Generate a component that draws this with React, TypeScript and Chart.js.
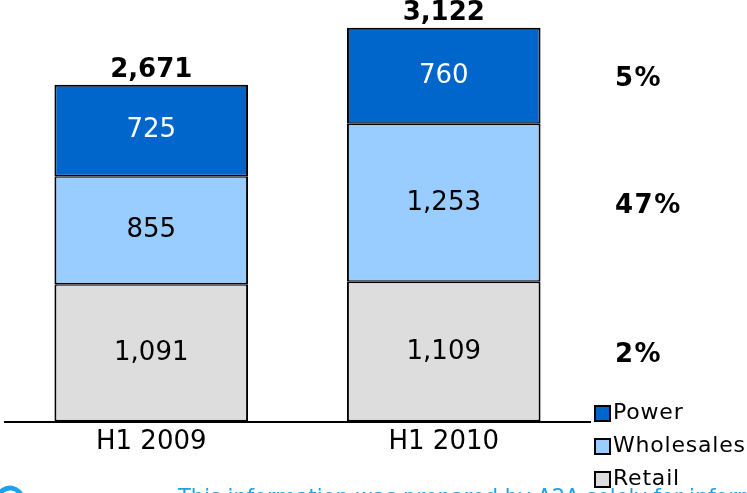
import React, { useEffect, useRef } from "react";
import { Chart, registerables } from "chart.js";

Chart.register(...registerables);

const categories = ["H1 2009", "H1 2010"];
const seriesNames = ["Retail", "Wholesales", "Power"];
const retail = [1091, 1109];
const wholesales = [855, 1253];
const power = [725, 760];
const totals = ["2,671", "3,122"];
const growthLabels = ["2%", "47%", "5%"]; // Retail, Wholesales, Power
const colors = ["#DDDDDD", "#99CCFF", "#0066CC"];
const labelColors = ["#000000", "#000000", "#FFFFFF"];
const footerText = "This information was prepared by A2A solely for information purposes";

const FONT = "'DejaVu Sans', Verdana, sans-serif";

const borderWidths = [
  { left: 2, right: 2, top: 1.5, bottom: 2 },
  { left: 2, right: 2, top: 1.5, bottom: 1.5 },
  { left: 2, right: 2, top: 2, bottom: 1.5 },
];

const overlay = {
  id: "overlay",
  afterDatasetsDraw(chart: any) {
    const ctx = chart.ctx;
    const x = chart.scales.x;
    const y = chart.scales.y;
    ctx.save();
    // segment labels
    chart.data.datasets.forEach((ds: any, di: number) => {
      const meta = chart.getDatasetMeta(di);
      meta.data.forEach((bar: any, i: number) => {
        const v = ds.data[i];
        const yc = (bar.y + bar.base) / 2;
        ctx.fillStyle = labelColors[di];
        ctx.font = `26px ${FONT}`;
        ctx.letterSpacing = "0px";
        ctx.textAlign = "center";
        ctx.textBaseline = "middle";
        ctx.fillText(v.toLocaleString("en-US"), bar.x, yc);
      });
    });
    // totals
    categories.forEach((c, i) => {
      const sum = retail[i] + wholesales[i] + power[i];
      ctx.fillStyle = "#000";
      ctx.font = `bold 26px ${FONT}`;
      ctx.letterSpacing = "0px";
      ctx.textAlign = "center";
      ctx.textBaseline = "bottom";
      ctx.fillText(totals[i], x.getPixelForValue(i), y.getPixelForValue(sum) - 2);
    });
    // growth labels aligned to second bar segments
    chart.data.datasets.forEach((ds: any, di: number) => {
      const bar = chart.getDatasetMeta(di).data[1];
      const yc = (bar.y + bar.base) / 2;
      ctx.fillStyle = "#000";
      ctx.font = `bold 26px ${FONT}`;
      ctx.letterSpacing = "1.5px";
      ctx.textAlign = "left";
      ctx.textBaseline = "middle";
      ctx.fillText(growthLabels[di], 615, yc + 3);
    });
    ctx.letterSpacing = "0px";
    // legend
    const order = [2, 1, 0];
    const ys = [413, 446, 479];
    order.forEach((di, k) => {
      const ly = ys[k];
      ctx.fillStyle = colors[di];
      ctx.fillRect(595, ly - 7, 15, 15);
      ctx.strokeStyle = "#000";
      ctx.lineWidth = 2;
      ctx.strokeRect(595, ly - 7, 15, 15);
      ctx.fillStyle = "#000";
      ctx.font = `22px ${FONT}`;
      ctx.letterSpacing = "0.8px";
      ctx.textAlign = "left";
      ctx.textBaseline = "middle";
      ctx.fillText(seriesNames[di], 613, ly);
    });
    ctx.letterSpacing = "0px";
    // footer
    ctx.fillStyle = "#1AA3E8";
    ctx.font = `21px ${FONT}`;
    ctx.textAlign = "left";
    ctx.textBaseline = "top";
    ctx.fillText(footerText, 178, 488);
    ctx.strokeStyle = "#1AA3E8";
    ctx.lineWidth = 5;
    ctx.beginPath();
    ctx.arc(10, 500, 12, Math.PI * 1.05, Math.PI * 1.95);
    ctx.stroke();
    ctx.restore();
  },
};

export default function App() {
  const ref = useRef<HTMLCanvasElement>(null);
  useEffect(() => {
    if (!ref.current) return;
    const chart = new Chart(ref.current, {
      type: "bar",
      data: {
        labels: categories,
        datasets: [retail, wholesales, power].map((d, i) => ({
          label: seriesNames[i],
          data: d,
          backgroundColor: colors[i],
          borderColor: "#000000",
          borderWidth: borderWidths[i],
          borderSkipped: false,
          categoryPercentage: 1,
          barPercentage: 0.662,
        })),
      },
      options: {
        responsive: false,
        animation: false,
        devicePixelRatio: 1,
        layout: { padding: { left: 5, right: 157, top: 18, bottom: 30 } },
        plugins: { legend: { display: false }, tooltip: { enabled: false } },
        scales: {
          x: {
            stacked: true,
            grid: { display: false, drawTicks: false },
            border: { display: true, color: "#000", width: 2 },
            ticks: { color: "#000", font: { family: FONT, size: 26 }, padding: 5 },
          },
          y: {
            stacked: true,
            display: false,
            min: 0,
            max: 3200,
          },
        },
      },
      plugins: [overlay],
    });
    return () => chart.destroy();
  }, []);
  return (
    <div style={{ position: "fixed", left: 0, top: 0, width: 747, height: 493, background: "#fff" }}>
      <canvas ref={ref} width={747} height={493} style={{ width: 747, height: 493 }} />
    </div>
  );
}
